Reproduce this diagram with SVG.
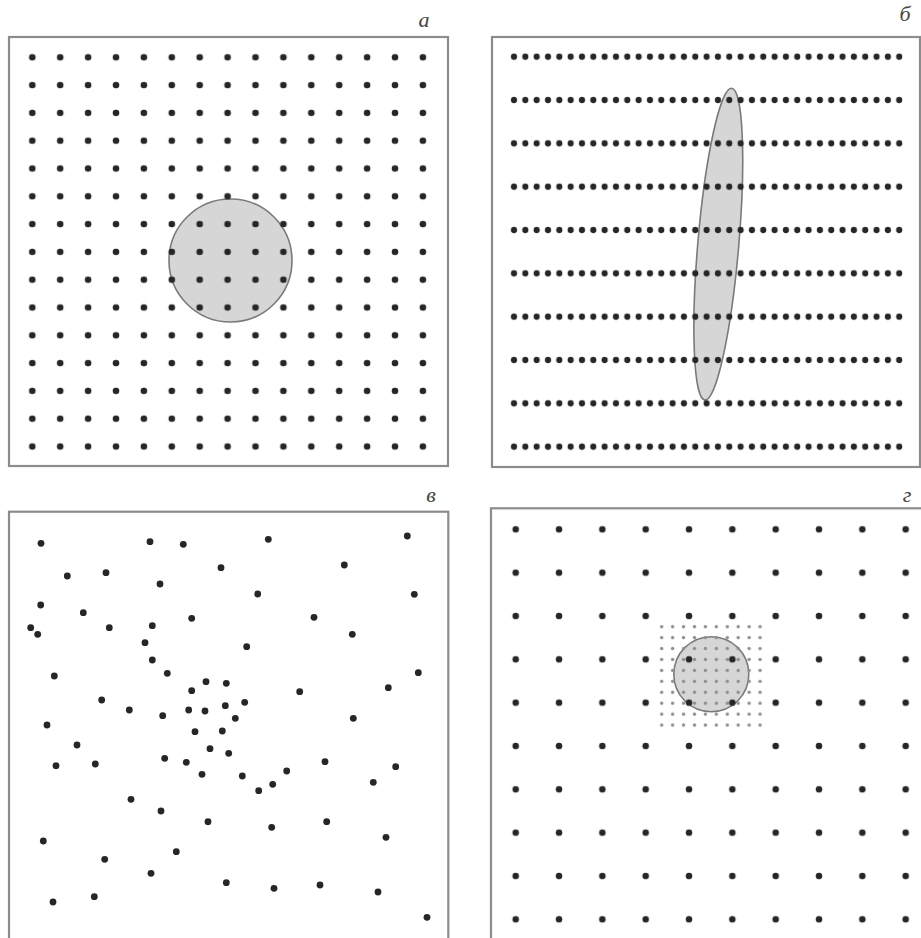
<svg xmlns="http://www.w3.org/2000/svg" width="921" height="938" viewBox="0 0 921 938">
<style>
.frame{fill:none;stroke:#8c8c8c;stroke-width:2.2}
.shape{fill:#d6d6d6;stroke:#7a7a7a;stroke-width:1.6}
.dot{fill:#262626}
.small{fill:#8f8f8f}
.lbl{font-family:"Liberation Serif","DejaVu Serif",serif;font-style:italic;font-size:22px;fill:#444;text-anchor:middle}
</style>
<defs>
<pattern id="gridA" patternUnits="userSpaceOnUse" x="18.35" y="43.4" width="27.9" height="27.8">
<circle class="dot" cx="13.95" cy="13.9" r="3.3"/>
</pattern>
<pattern id="gridB" patternUnits="userSpaceOnUse" x="508.335" y="35.035" width="11.33" height="43.33">
<circle class="dot" cx="5.665" cy="21.665" r="3.1"/>
</pattern>
<pattern id="gridG" patternUnits="userSpaceOnUse" x="494.035" y="507.635" width="43.33" height="43.33">
<circle class="dot" cx="21.665" cy="21.665" r="3.3"/>
</pattern>
<pattern id="gridGs" patternUnits="userSpaceOnUse" x="656.235" y="621.235" width="10.93" height="10.93">
<circle class="small" cx="5.465" cy="5.465" r="1.7"/>
</pattern>
</defs>
<rect width="921" height="938" fill="#ffffff"/>

<g id="panel-a">
<rect class="frame" x="9" y="37" width="439" height="429"/>
<circle class="shape" cx="230.5" cy="260.5" r="61.5"/>
<rect x="18.35" y="43.4" width="418.5" height="417" fill="url(#gridA)"/>
<text class="lbl" x="424" y="27">а</text>
</g>

<g id="panel-b">
<rect class="frame" x="492" y="37" width="428" height="430"/>
<ellipse class="shape" cx="718.3" cy="244.2" rx="20.5" ry="156.5" transform="rotate(4.9 718.3 244.2)"/>
<rect x="508.335" y="35.035" width="396.55" height="433.3" fill="url(#gridB)"/>
<text class="lbl" x="905" y="21">б</text>
</g>

<g id="panel-v">
<rect class="frame" x="9" y="511.7" width="439.3" height="430"/>
<g class="dot">
<circle cx="41" cy="543.3" r="3.4"/><circle cx="150" cy="541.7" r="3.4"/><circle cx="183.3" cy="544.3" r="3.4"/><circle cx="268.3" cy="539.3" r="3.4"/><circle cx="407.3" cy="536" r="3.4"/>
<circle cx="344.3" cy="565" r="3.4"/><circle cx="221" cy="567.7" r="3.4"/><circle cx="67.3" cy="576" r="3.4"/><circle cx="106" cy="572.7" r="3.4"/><circle cx="160" cy="584" r="3.4"/>
<circle cx="257.7" cy="594" r="3.4"/><circle cx="414.3" cy="594.3" r="3.4"/><circle cx="40.7" cy="605" r="3.4"/><circle cx="83.3" cy="612.7" r="3.4"/><circle cx="191.7" cy="618.3" r="3.4"/>
<circle cx="314" cy="617.3" r="3.4"/><circle cx="152.3" cy="625.7" r="3.4"/><circle cx="109.3" cy="627.7" r="3.4"/><circle cx="30.7" cy="627.7" r="3.4"/><circle cx="37.7" cy="634.3" r="3.4"/>
<circle cx="352.3" cy="634.3" r="3.4"/><circle cx="145" cy="642.7" r="3.4"/><circle cx="246.7" cy="646.7" r="3.4"/><circle cx="152.3" cy="660" r="3.4"/><circle cx="54.3" cy="676" r="3.4"/>
<circle cx="167.3" cy="673.3" r="3.4"/><circle cx="418.3" cy="672.7" r="3.4"/><circle cx="206" cy="681.7" r="3.4"/><circle cx="226.3" cy="683.3" r="3.4"/><circle cx="388.3" cy="687.7" r="3.4"/>
<circle cx="191.7" cy="690.7" r="3.4"/><circle cx="299.7" cy="691.7" r="3.4"/><circle cx="101.7" cy="700" r="3.4"/><circle cx="244.7" cy="702.3" r="3.4"/><circle cx="225.3" cy="705.7" r="3.4"/>
<circle cx="129.3" cy="710" r="3.4"/><circle cx="188.7" cy="710" r="3.4"/><circle cx="205" cy="711" r="3.4"/><circle cx="162.7" cy="715.7" r="3.4"/><circle cx="235.3" cy="718.3" r="3.4"/>
<circle cx="353.3" cy="718.3" r="3.4"/><circle cx="47" cy="725" r="3.4"/><circle cx="195" cy="731.7" r="3.4"/><circle cx="222.3" cy="731" r="3.4"/><circle cx="77" cy="745" r="3.4"/>
<circle cx="210" cy="748.7" r="3.4"/><circle cx="228.7" cy="753.3" r="3.4"/><circle cx="325" cy="761.7" r="3.4"/><circle cx="164.7" cy="758.3" r="3.4"/><circle cx="186.3" cy="762.3" r="3.4"/>
<circle cx="56" cy="765.7" r="3.4"/><circle cx="95.3" cy="764" r="3.4"/><circle cx="395.7" cy="766.7" r="3.4"/><circle cx="286.7" cy="771" r="3.4"/><circle cx="202" cy="774.3" r="3.4"/>
<circle cx="242.3" cy="776" r="3.4"/><circle cx="373.3" cy="782.3" r="3.4"/><circle cx="272.7" cy="784.3" r="3.4"/><circle cx="258.7" cy="790.7" r="3.4"/><circle cx="131" cy="799.3" r="3.4"/>
<circle cx="161" cy="811" r="3.4"/><circle cx="208" cy="821.7" r="3.4"/><circle cx="326.7" cy="821.7" r="3.4"/><circle cx="271.7" cy="827.3" r="3.4"/><circle cx="43.3" cy="841" r="3.4"/>
<circle cx="386" cy="837.3" r="3.4"/><circle cx="176.3" cy="851.7" r="3.4"/><circle cx="104.7" cy="859.3" r="3.4"/><circle cx="151" cy="873.3" r="3.4"/><circle cx="226.3" cy="882.7" r="3.4"/>
<circle cx="274" cy="888.3" r="3.4"/><circle cx="320" cy="885" r="3.4"/><circle cx="378" cy="892" r="3.4"/><circle cx="94.3" cy="896.7" r="3.4"/><circle cx="53" cy="902" r="3.4"/>
<circle cx="427" cy="917.3" r="3.4"/>
</g>
<text class="lbl" x="431" y="502">в</text>
</g>

<g id="panel-g">
<rect class="frame" x="491" y="508.3" width="432" height="432"/>
<circle class="shape" cx="711.3" cy="674.2" r="37.5"/>
<rect x="656.235" y="621.235" width="109.3" height="109.3" fill="url(#gridGs)"/>
<rect x="494.035" y="507.635" width="433.3" height="433.3" fill="url(#gridG)"/>
<text class="lbl" x="907" y="502">г</text>
</g>
</svg>
